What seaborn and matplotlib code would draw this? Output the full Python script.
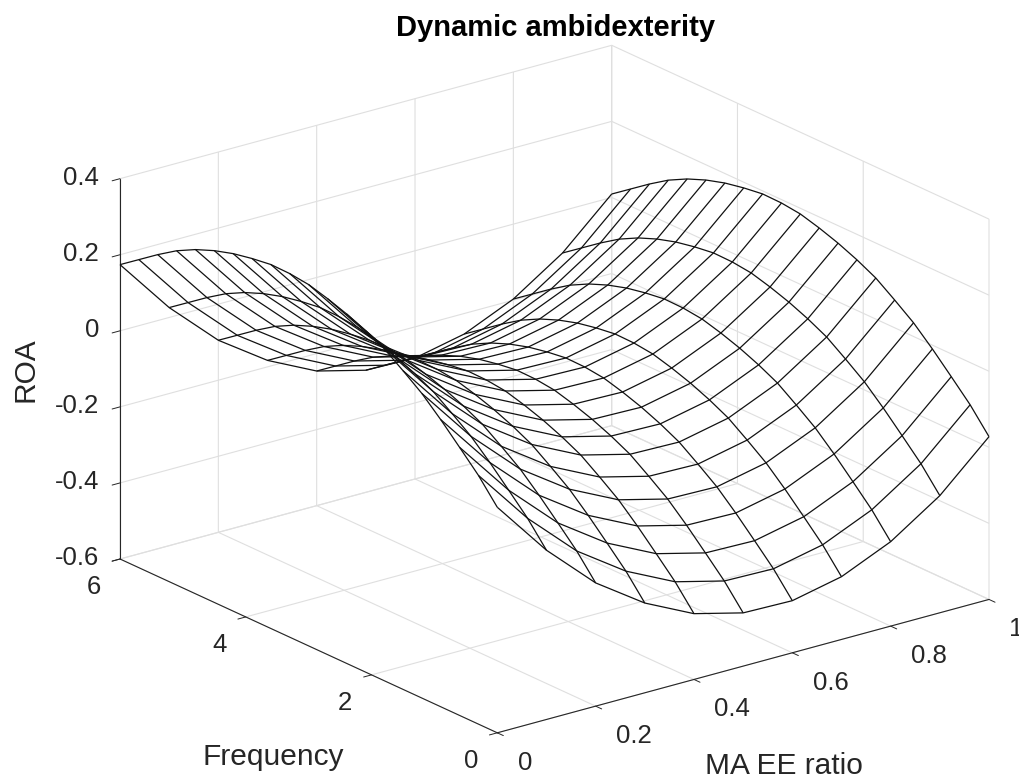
import numpy as np
import matplotlib
matplotlib.use("Agg")
import matplotlib.pyplot as plt
import seaborn as sns
from mpl_toolkits.mplot3d import proj3d

# ---- data ----
ma_ee_ratio = [0.0, 0.1, 0.2, 0.3, 0.4, 0.5, 0.6, 0.7, 0.8, 0.9, 1.0]
frequency = [0.0, 0.3, 0.6, 0.9, 1.2, 1.5, 1.8, 2.1, 2.4, 2.7, 3.0,
             3.3, 3.6, 3.9, 4.2, 4.5, 4.8, 5.1, 5.4, 5.7, 6.0]
roa = [
    [-.007, -.155, -.276, -.364, -.427, -.460, -.463, -.435, -.378, -.292, -.172],
    [.054, -.094, -.215, -.303, -.366, -.399, -.402, -.374, -.317, -.231, -.111],
    [.105, -.043, -.164, -.252, -.315, -.348, -.351, -.323, -.266, -.180, -.060],
    [.155, .007, -.114, -.202, -.265, -.298, -.301, -.273, -.216, -.130, -.010],
    [.201, .053, -.068, -.156, -.219, -.252, -.255, -.227, -.170, -.084, .036],
    [.238, .090, -.031, -.119, -.182, -.215, -.218, -.190, -.133, -.047, .073],
    [.273, .125, .004, -.084, -.147, -.180, -.183, -.155, -.098, -.012, .108],
    [.298, .150, .029, -.059, -.122, -.155, -.158, -.130, -.073, .013, .133],
    [.319, .171, .050, -.038, -.101, -.134, -.137, -.109, -.052, .034, .154],
    [.336, .188, .067, -.021, -.084, -.117, -.120, -.092, -.035, .051, .171],
    [.350, .202, .081, -.007, -.070, -.103, -.106, -.078, -.021, .065, .185],
    [.356, .208, .087, -.001, -.064, -.097, -.100, -.072, -.015, .071, .191],
    [.357, .209, .088, .000, -.063, -.096, -.099, -.071, -.014, .072, .192],
    [.350, .202, .081, -.007, -.070, -.103, -.106, -.078, -.021, .065, .185],
    [.340, .192, .071, -.017, -.080, -.113, -.116, -.088, -.031, .055, .175],
    [.325, .177, .056, -.032, -.095, -.128, -.131, -.103, -.046, .040, .160],
    [.305, .157, .036, -.052, -.115, -.148, -.151, -.123, -.066, .020, .140],
    [.279, .131, .010, -.078, -.141, -.174, -.177, -.149, -.092, -.006, .114],
    [.246, .098, -.023, -.111, -.174, -.207, -.210, -.182, -.125, -.039, .081],
    [.210, .062, -.059, -.147, -.210, -.243, -.246, -.218, -.161, -.075, .045],
    [.174, .026, -.095, -.183, -.246, -.279, -.282, -.254, -.197, -.111, .009],
]
x_ticks = [0, 0.2, 0.4, 0.6, 0.8, 1]
x_tick_labels = ["0", "0.2", "0.4", "0.6", "0.8", "1"]
y_ticks = [0, 2, 4, 6]
y_tick_labels = ["0", "2", "4", "6"]
z_ticks = [-0.6, -0.4, -0.2, 0, 0.2, 0.4]
z_tick_labels = ["-0.6", "-0.4", "-0.2", "0", "0.2", "0.4"]

sns.set_theme(style="white")
plt.rcParams["font.family"] = ["Liberation Sans", "DejaVu Sans"]

W, H = 1019, 780
INK = "#262626"
GRID = "#dfdfdf"
fig = plt.figure(figsize=(W / 100, H / 100), dpi=100, facecolor="white")
ax = fig.add_axes([0, 0, 1, 1], projection="3d", proj_type="ortho", facecolor="none")
ax.view_init(elev=20.7, azim=-127.5)
ax.set_xlim(0, 1, view_margin=0)
ax.set_ylim(0, 6, view_margin=0)
ax.set_zlim(-0.6, 0.4, view_margin=0)
ax.set_box_aspect((1, 1, 0.656))

X, Y = np.meshgrid(ma_ee_ratio, frequency)
Z = np.array(roa)
ax.plot_wireframe(X, Y, Z, rstride=1, cstride=1, color="#111111", linewidth=0.9)

ax.set_xticks(x_ticks, x_tick_labels)
ax.set_yticks(y_ticks, y_tick_labels)
ax.set_zticks(z_ticks, z_tick_labels)
ax.tick_params(axis="both", labelsize=18.5, labelcolor=INK)
ax.tick_params(axis="x", pad=11)
ax.tick_params(axis="y", pad=11)
ax.tick_params(axis="z", pad=0.5)
for lab in ax.get_xticklabels():
    lab.set(ha="left", va="center")
for lab in ax.get_yticklabels():
    lab.set(ha="center", va="center")
for lab in ax.get_zticklabels():
    lab.set(ha="right", va="center")
for a in (ax.xaxis, ax.yaxis, ax.zaxis):
    a.set_pane_color((1, 1, 1, 0))
    a.pane.set_edgecolor(GRID)
    a.pane.set_linewidth(0.8)
    a.line.set_color(INK)
    a.line.set_linewidth(0.8)
    a._axinfo["grid"].update(color=GRID, linewidth=0.8)
    a._axinfo["tick"].update(inward_factor=0.2, outward_factor=0.0,
                             linewidth={True: 0.7, False: 0.7}, color=INK)
ax.grid(True)

# Fit the axes so the box corners land where the reference has them
M = ax.get_proj()
vx_l, vy_l, _ = proj3d.proj_transform(0, 6, -0.6, M)
vx_r, vy_r, _ = proj3d.proj_transform(1, 0, -0.6, M)
vl = ax.viewLim
scale = (989 - 120) / (vx_r - vx_l)          # pixels per view unit
sw, sh = scale * vl.width, scale * vl.height
left = 120 - (vx_l - vl.x0) * scale
bottom = (H - 559) - (vy_l - vl.y0) * scale
ax.set_position([left / W, bottom / H, sw / W, sh / H])

fig.suptitle("Dynamic ambidexterity", x=556 / W, y=(H - 36) / H, ha="center", va="baseline",
             fontsize=21, fontweight="bold", color="black")
fig.text(273 / W, (H - 757) / H, "Frequency", ha="center", va="center", fontsize=21.5, color=INK)
fig.text(784 / W, (H - 766) / H, "MA EE ratio", ha="center", va="center", fontsize=21.5, color=INK)
fig.text(25 / W, (H - 370) / H, "ROA", ha="center", va="center", rotation=90, fontsize=21.5, color=INK)

fig.savefig("out.png", dpi=100)
